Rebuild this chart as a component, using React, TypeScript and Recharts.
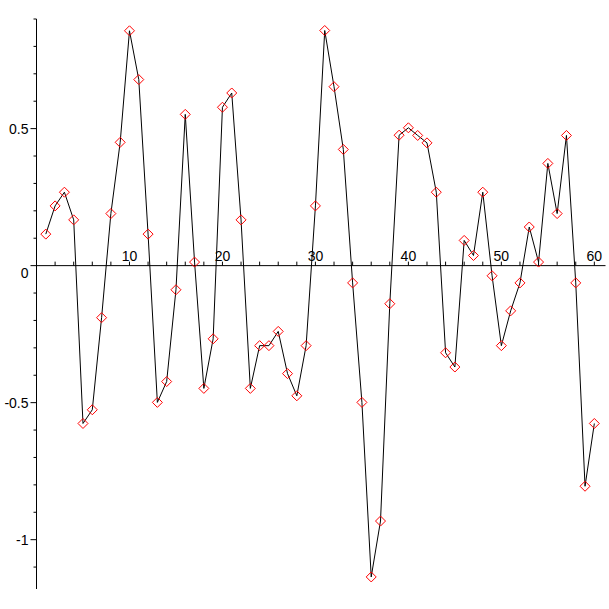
import React from 'react';
import { LineChart, Line, XAxis, YAxis, ReferenceLine } from 'recharts';

const xValues = [
  1, 2, 3, 4, 5, 6, 7, 8, 9, 10,
  11, 12, 13, 14, 15, 16, 17, 18, 19, 20,
  21, 22, 23, 24, 25, 26, 27, 28, 29, 30,
  31, 32, 33, 34, 35, 36, 37, 38, 39, 40,
  41, 42, 43, 44, 45, 46, 47, 48, 49, 50,
  51, 52, 53, 54, 55, 56, 57, 58, 59, 60,
];

const yValues = [
  0.115, 0.218, 0.268, 0.167, -0.576, -0.526, -0.19, 0.19, 0.45, 0.857,
  0.679, 0.115, -0.499, -0.423, -0.088, 0.552, 0.013, -0.448, -0.267, 0.578,
  0.63, 0.167, -0.448, -0.292, -0.292, -0.24, -0.394, -0.475, -0.292, 0.218,
  0.858, 0.653, 0.424, -0.063, -0.499, -1.136, -0.932, -0.139, 0.476, 0.503,
  0.475, 0.448, 0.268, -0.318, -0.37, 0.092, 0.037, 0.268, -0.037, -0.292,
  -0.165, -0.063, 0.141, 0.013, 0.373, 0.19, 0.475, -0.063, -0.805, -0.576,
];

const xTicks = [2, 4, 6, 8, 10, 12, 14, 16, 18, 20, 22, 24, 26, 28, 30, 32, 34, 36, 38, 40, 42, 44, 46, 48, 50, 52, 54, 56, 58, 60];
const xLabels = [10, 20, 30, 40, 50, 60];
const yTicks = [-1.1, -1, -0.9, -0.8, -0.7, -0.6, -0.5, -0.4, -0.3, -0.2, -0.1, 0, 0.1, 0.2, 0.3, 0.4, 0.5, 0.6, 0.7, 0.8, 0.9];
const yLabels = [-1, -0.5, 0, 0.5];

const data = xValues.map((x, i) => ({ x, y: yValues[i] }));

const W = 609;
const H = 609;
const M = { top: 19, right: 3.5, bottom: 0, left: 0 };
const Y_AXIS_W = 36.5;
const X_AXIS_H = 20;
const Y_MIN = -1.18;
const Y_MAX = 0.9;
const PLOT_H = H - M.top - M.bottom - X_AXIS_H;
const ZERO_FROM_BOTTOM = (PLOT_H * (0 - Y_MIN)) / (Y_MAX - Y_MIN);
const FONT = "'Liberation Sans', Arial, sans-serif";

const isLabel = (arr: number[], v: number) => arr.some((a) => Math.abs(a - v) < 1e-9);

const XTick = (props: any) => {
  const { x, y, payload } = props;
  const zy = y - ZERO_FROM_BOTTOM;
  const v = payload.value;
  return (
    <g>
      <line x1={x} x2={x} y1={zy} y2={zy - 4} stroke="#000" strokeWidth={1} />
      {isLabel(xLabels, v) && (
        <text x={x} y={zy - 5} textAnchor="middle" fontFamily={FONT} fontSize={14} fill="#000">
          {v}
        </text>
      )}
    </g>
  );
};

const YTick = (props: any) => {
  const { x, y, payload } = props;
  const v = payload.value;
  const major = isLabel(yLabels, v);
  return (
    <g>
      <line x1={x - (major ? 6 : 3)} x2={x} y1={y} y2={y} stroke="#000" strokeWidth={1} />
      {major && (
        <text
          x={x - 8}
          y={v === 0 ? y + 12 : y + 5}
          textAnchor="end"
          fontFamily={FONT}
          fontSize={14}
          fill="#000"
        >
          {v}
        </text>
      )}
    </g>
  );
};

const Diamond = (props: any) => {
  const { cx, cy, index } = props;
  if (cx == null || cy == null) return <g key={index} />;
  const r = 5;
  return (
    <path
      key={index}
      d={`M${cx},${cy - r}L${cx + r},${cy}L${cx},${cy + r}L${cx - r},${cy}Z`}
      fill="none"
      stroke="#ff0000"
      strokeWidth={1}
    />
  );
};

export default function App() {
  return (
    <div style={{ position: 'absolute', left: 0, top: 0, width: W, height: H, background: '#fff' }}>
      <LineChart width={W} height={H} data={data} margin={M}>
        <XAxis
          dataKey="x"
          type="number"
          domain={[0, 61.2]}
          allowDataOverflow
          ticks={xTicks}
          interval={0}
          axisLine={false}
          tickLine={false}
          tickSize={0}
          tickMargin={0}
          height={X_AXIS_H}
          tick={<XTick />}
        />
        <YAxis
          type="number"
          domain={[Y_MIN, Y_MAX]}
          allowDataOverflow
          ticks={yTicks}
          interval={0}
          axisLine={{ stroke: '#000', strokeWidth: 1 }}
          tickLine={false}
          tickSize={0}
          tickMargin={0}
          width={Y_AXIS_W}
          tick={<YTick />}
        />
        <ReferenceLine y={0} stroke="#000" strokeWidth={1} />
        <Line
          dataKey="y"
          type="linear"
          stroke="#000"
          strokeWidth={1}
          dot={<Diamond />}
          activeDot={false}
          isAnimationActive={false}
        />
      </LineChart>
    </div>
  );
}
